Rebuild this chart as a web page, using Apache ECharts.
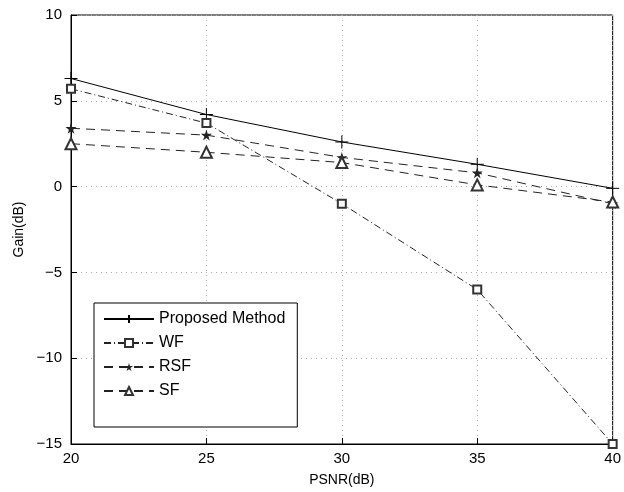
<!DOCTYPE html>
<html>
<head>
<meta charset="UTF-8">
<title>Gain vs PSNR</title>
<script type="text/javascript" src="https://cdn.jsdelivr.net/npm/echarts@6/dist/echarts.min.js"></script>
</head>
<body style="margin:0;background:#fff">
	<div id="show" style="width:624px;height:492px"></div>
	<script type="text/javascript">
		// values
		var psnr=[20,25,30,35,40];
		var proposed=[6.3,4.2,2.6,1.3,-0.1];
		var wf=[5.7,3.7,-1.0,-6.0,-15.0];
		var rsf=[3.4,3.0,1.7,0.8,-1.0];
		var sf=[2.5,2.0,1.4,0.1,-0.9];
		var names=['Proposed Method','WF','RSF','SF'];

		function pairs(ys){
			var out=[];
			for(var i=0;i<psnr.length;i++){
				out.push([psnr[i],ys[i]]);
			}
			return out;
		}

		var font='"Liberation Sans", Arial, sans-serif';
		var plus='path://M5,0 L5,10 M0,5 L10,5';
		var star='path://M50,0 L61,35 L98,35 L68,57 L79,91 L50,70 L21,91 L32,57 L2,35 L39,35 Z';

		var myCharts=echarts.init(document.getElementById('show'));
		myCharts.setOption({
			animation:false,
			backgroundColor:'#fff',
			textStyle:{fontFamily:font},
			grid:{left:71,right:9,top:15,bottom:46,show:true,borderColor:'#000',borderWidth:1,backgroundColor:'transparent'},
			legend:{
				orient:'vertical',
				left:94,top:303,
				data:names,
				itemWidth:50,itemHeight:10,itemGap:8,
				padding:[8,12,28,9],
				backgroundColor:'#fff',
				borderColor:'#000',borderWidth:1,
				textStyle:{fontFamily:font,fontSize:16,color:'#000'}
			},
			xAxis:{
				type:'value',min:20,max:40,interval:5,
				name:'PSNR(dB)',nameLocation:'middle',nameGap:29,
				nameTextStyle:{fontFamily:font,fontSize:14,color:'#000'},
				axisLine:{onZero:false,lineStyle:{color:'#000'}},
				axisTick:{inside:true,length:6,lineStyle:{color:'#000'}},
				axisLabel:{fontFamily:font,fontSize:15,color:'#000',margin:7},
				splitLine:{show:true,lineStyle:{color:'#aaa',type:[1,4]}}
			},
			yAxis:{
				type:'value',min:-15,max:10,interval:5,
				name:'Gain(dB)',nameLocation:'middle',nameGap:40,
				nameTextStyle:{fontFamily:font,fontSize:14,color:'#000'},
				axisLine:{lineStyle:{color:'#000'}},
				axisTick:{inside:true,length:6,lineStyle:{color:'#000'}},
				axisLabel:{fontFamily:font,fontSize:15,color:'#000',margin:9,
					formatter:function(v){return v<0?'\u2212'+(-v):String(v);}},
				splitLine:{show:true,lineStyle:{color:'#aaa',type:[1,4]}}
			},
			series:[{
				name:names[0],type:'line',data:pairs(proposed),
				symbol:plus,symbolSize:13,
				itemStyle:{color:'#000',borderColor:'#000',borderWidth:1},
				lineStyle:{color:'#000',width:1}
			},{
				name:names[1],type:'line',data:pairs(wf),
				symbol:'emptyRect',symbolSize:8,
				itemStyle:{color:'#333',borderWidth:1},
				lineStyle:{color:'#222',width:1,type:[7,3,1,3]}
			},{
				name:names[2],type:'line',data:pairs(rsf),
				symbol:star,symbolSize:11,
				itemStyle:{color:'#222'},
				lineStyle:{color:'#222',width:1,type:[9,6]}
			},{
				name:names[3],type:'line',data:pairs(sf),
				symbol:'emptyTriangle',symbolSize:11,
				itemStyle:{color:'#333',borderWidth:1},
				lineStyle:{color:'#222',width:1,type:[9,6]}
			}]
		});
	</script>
</body>
</html>
